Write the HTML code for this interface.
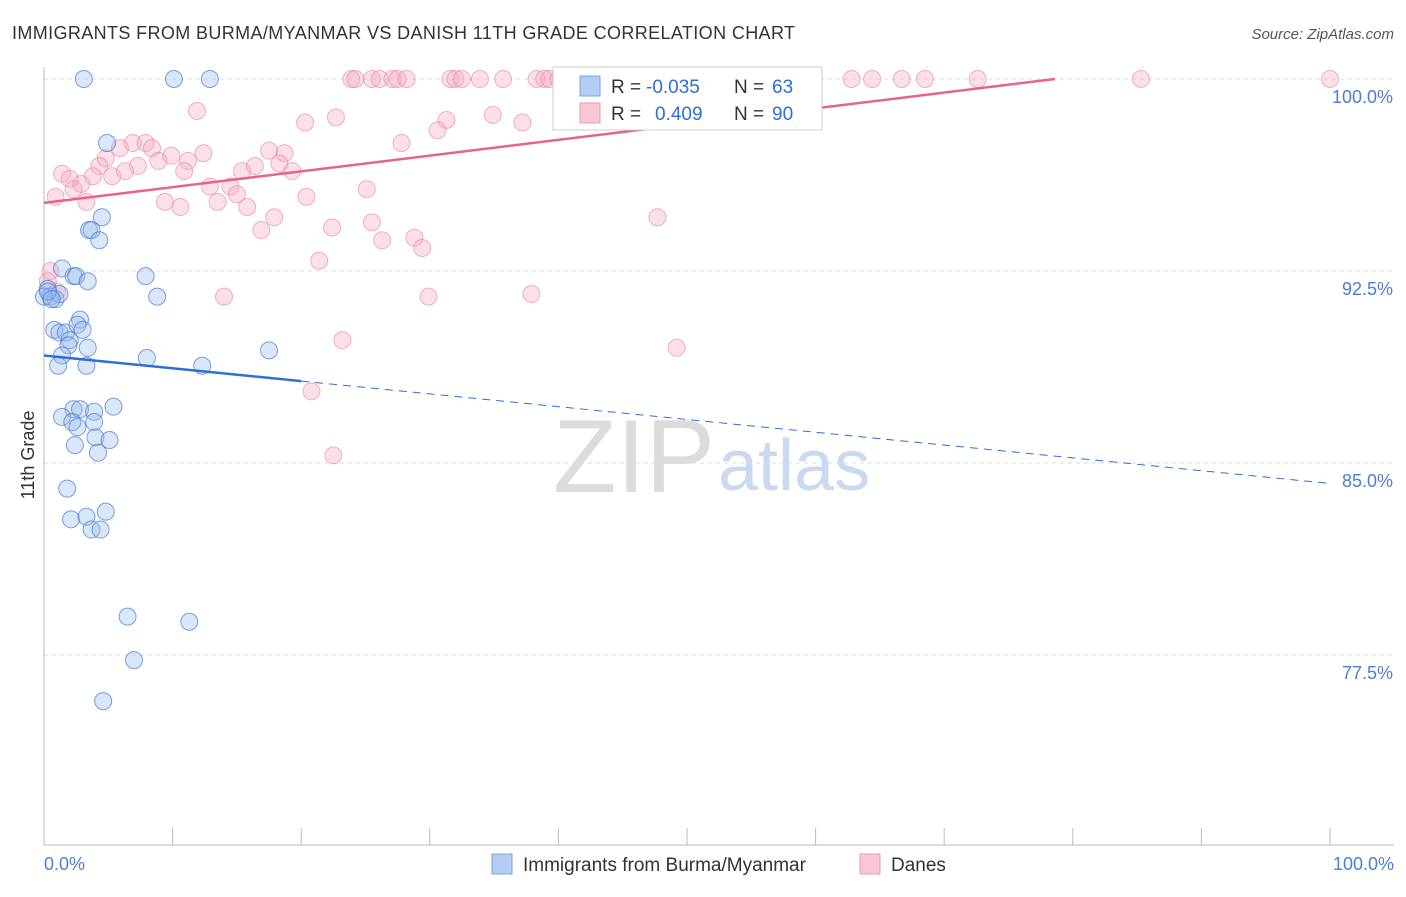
<!DOCTYPE html>
<html><head><meta charset="utf-8"><style>
body{margin:0;background:#fff;font-family:"Liberation Sans",sans-serif;}
svg text{font-family:"Liberation Sans",sans-serif;}
</style></head><body>
<svg width="1406" height="892" id="chart">
<text x="12" y="39" font-size="18" fill="#333" textLength="783">IMMIGRANTS FROM BURMA/MYANMAR VS DANISH 11TH GRADE CORRELATION CHART</text>
<text x="1394" y="39" font-size="15" fill="#555" text-anchor="end" font-style="italic">Source: ZipAtlas.com</text>
<text x="34" y="455" font-size="18" fill="#333" transform="rotate(-90 34 455)" text-anchor="middle">11th Grade</text>
<text x="553" y="492" font-size="104" fill="#dcdcdc" font-family="Liberation Serif" textLength="162">ZIP</text>
<text x="718" y="490" font-size="72" fill="#c8d9f0">atlas</text>
<g id="grid"></g><g id="marks"></g>
<g>
<rect x="553" y="67" width="269" height="63" fill="#fff" stroke="#ccc"/>
<rect x="580" y="76" width="20" height="20" fill="#b5cdf2" stroke="#7aa3e0"/>
<rect x="580" y="103" width="20" height="20" fill="#f8c6d4" stroke="#ee9ab4"/>
<text x="611" y="93" font-size="19" fill="#333">R =</text>
<text x="646" y="93" font-size="19" fill="#2d6fd6">-0.035</text>
<text x="734" y="93" font-size="19" fill="#333">N =</text>
<text x="772" y="93" font-size="19" fill="#2d6fd6">63</text>
<text x="611" y="120" font-size="19" fill="#333">R =</text>
<text x="655" y="120" font-size="19" fill="#2d6fd6">0.409</text>
<text x="734" y="120" font-size="19" fill="#333">N =</text>
<text x="772" y="120" font-size="19" fill="#2d6fd6">90</text>
</g>
<g>
<rect x="492" y="854" width="20" height="20" fill="#b5cdf2" stroke="#7aa3e0"/>
<text x="523" y="871" font-size="19" fill="#333">Immigrants from Burma/Myanmar</text>
<rect x="860" y="854" width="20" height="20" fill="#f8c6d4" stroke="#ee9ab4"/>
<text x="891" y="871" font-size="19" fill="#333">Danes</text>
</g>
<text x="44" y="870" font-size="18" fill="#4a7fd4">0.0%</text>
<text x="1394" y="870" font-size="18" fill="#4a7fd4" text-anchor="end">100.0%</text>
</svg>
<script>
const yTicks=[100,92.5,85,77.5];
const yTickLabels=["100.0%","92.5%","85.0%","77.5%"];
const xTicks=[0,10,20,30,40,50,60,70,80,90,100];
const blueX=[3.1,10.1,12.9,4.9,4.5,3.5,3.7,4.3,1.4,2.3,2.5,3.4,7.9,8.8,0.3,0.5,0.9,1.2,0.8,1.2,1.7,2.0,1.9,2.8,2.6,3.0,3.4,1.4,1.1,3.3,8.0,12.3,17.5,2.3,2.8,1.4,3.9,5.4,2.2,2.6,3.9,4.0,5.1,2.4,4.2,1.8,2.1,3.3,4.8,3.7,4.4,6.5,11.3,7.0,4.6,0,0.3,0.6];
const blueY=[100,100,100,97.5,94.6,94.1,94.1,93.7,92.6,92.3,92.3,92.1,92.3,91.5,91.8,91.5,91.4,91.6,90.2,90.1,90.1,89.8,89.6,90.6,90.4,90.2,89.5,89.2,88.8,88.8,89.1,88.8,89.4,87.1,87.1,86.8,87.0,87.2,86.6,86.4,86.6,86.0,85.9,85.7,85.4,84.0,82.8,82.9,83.1,82.4,82.4,79.0,78.8,77.3,75.7,91.5,91.7,91.4];
const pinkX=[23.9,24.2,25.5,26.1,27.1,27.5,28.2,31.6,32.0,32.5,33.9,35.7,38.3,38.9,39.3,40.0,40.6,42.5,43.2,45.6,47.5,51.0,52.4,62.8,64.4,66.7,68.5,72.6,85.3,100.0,11.9,20.3,22.7,34.9,37.2,31.3,30.6,27.8,41.5,6.9,7.9,8.4,5.9,4.8,4.3,8.9,9.9,11.2,12.4,17.5,18.7,7.3,10.9,15.4,16.4,18.3,19.3,1.4,2.0,3.8,5.3,6.3,2.9,2.3,0.9,3.3,12.9,14.5,15.0,9.4,10.6,13.5,15.8,20.4,25.1,17.9,16.9,22.4,25.5,26.3,28.8,29.4,47.7,21.4,14.0,29.9,37.9,23.2,49.2,20.8,22.5,0.3,0.5,1.0];
const pinkY=[100,100,100,100,100,100,100,100,100,100,100,100,100,100,100,100,100,100,100,100,100,100,100,100,100,100,100,100,100,100,98.75,98.3,98.5,98.6,98.3,98.4,98.0,97.5,98.6,97.5,97.5,97.3,97.3,96.9,96.6,96.8,97.0,96.8,97.1,97.2,97.1,96.6,96.4,96.4,96.6,96.7,96.4,96.3,96.1,96.2,96.2,96.4,95.9,95.7,95.4,95.2,95.8,95.8,95.5,95.2,95.0,95.2,95.0,95.4,95.7,94.6,94.1,94.2,94.4,93.7,93.8,93.4,94.6,92.9,91.5,91.5,91.6,89.8,89.5,87.8,85.3,92.1,92.5,91.7];
const blueTrend=[[0,89.2],[20,88.2],[100,84.2]];
const pinkTrend=[[0,95.16],[78.6,100]];
const X=v=>44+v*12.86, Y=v=>79+(100-v)*25.6;
const NS="http://www.w3.org/2000/svg";
const grid=document.getElementById('grid'), marks=document.getElementById('marks');
function mk(tag,attrs,parent){const e=document.createElementNS(NS,tag);for(const k in attrs)e.setAttribute(k,attrs[k]);parent.appendChild(e);return e;}
yTicks.forEach((t,i)=>{
 const l=mk('line',{x1:44,x2:1394,y1:Y(t),y2:Y(t),stroke:'#ddd','stroke-dasharray':'4,4'},grid);
 
 
 const tx=mk('text',{x:1393,y:Y(t)+24,'font-size':18,fill:'#4a7fd4','text-anchor':'end'},grid);
 tx.textContent=yTickLabels[i];
 
 
});
const ax=mk('line',{x1:44,x2:1394,y1:845,y2:845,stroke:'#bbb'},grid);


const ay=mk('line',{x1:44,x2:44,y1:67,y2:845,stroke:'#bbb'},grid);


xTicks.forEach(t=>{
 const l=mk('line',{x1:X(t),x2:X(t),y1:828,y2:845,stroke:'#bbb'},grid);
 
 
});
pinkX.forEach((x,i)=>{
 const c=mk('circle',{cx:X(x),cy:Y(pinkY[i]),r:8.5,fill:'rgba(244,167,190,0.35)',stroke:'rgba(232,130,160,0.6)','stroke-width':1},marks);
 
 
});
blueX.forEach((x,i)=>{
 const c=mk('circle',{cx:X(x),cy:Y(blueY[i]),r:8.5,fill:'rgba(150,185,235,0.35)',stroke:'rgba(70,120,210,0.7)','stroke-width':1},marks);
 
 
});
const b1=mk('line',{x1:X(blueTrend[0][0]),y1:Y(blueTrend[0][1]),x2:X(blueTrend[1][0]),y2:Y(blueTrend[1][1]),stroke:'#2d6fd6','stroke-width':2.5},marks);


const b2=mk('line',{x1:X(blueTrend[1][0]),y1:Y(blueTrend[1][1]),x2:X(blueTrend[2][0]),y2:Y(blueTrend[2][1]),stroke:'#2d6fd6','stroke-width':1,'stroke-dasharray':'8,6'},marks);


const p1=mk('line',{x1:X(pinkTrend[0][0]),y1:Y(pinkTrend[0][1]),x2:X(pinkTrend[1][0]),y2:Y(pinkTrend[1][1]),stroke:'#e8628f','stroke-width':2.5},marks);


</script>
</body></html>
